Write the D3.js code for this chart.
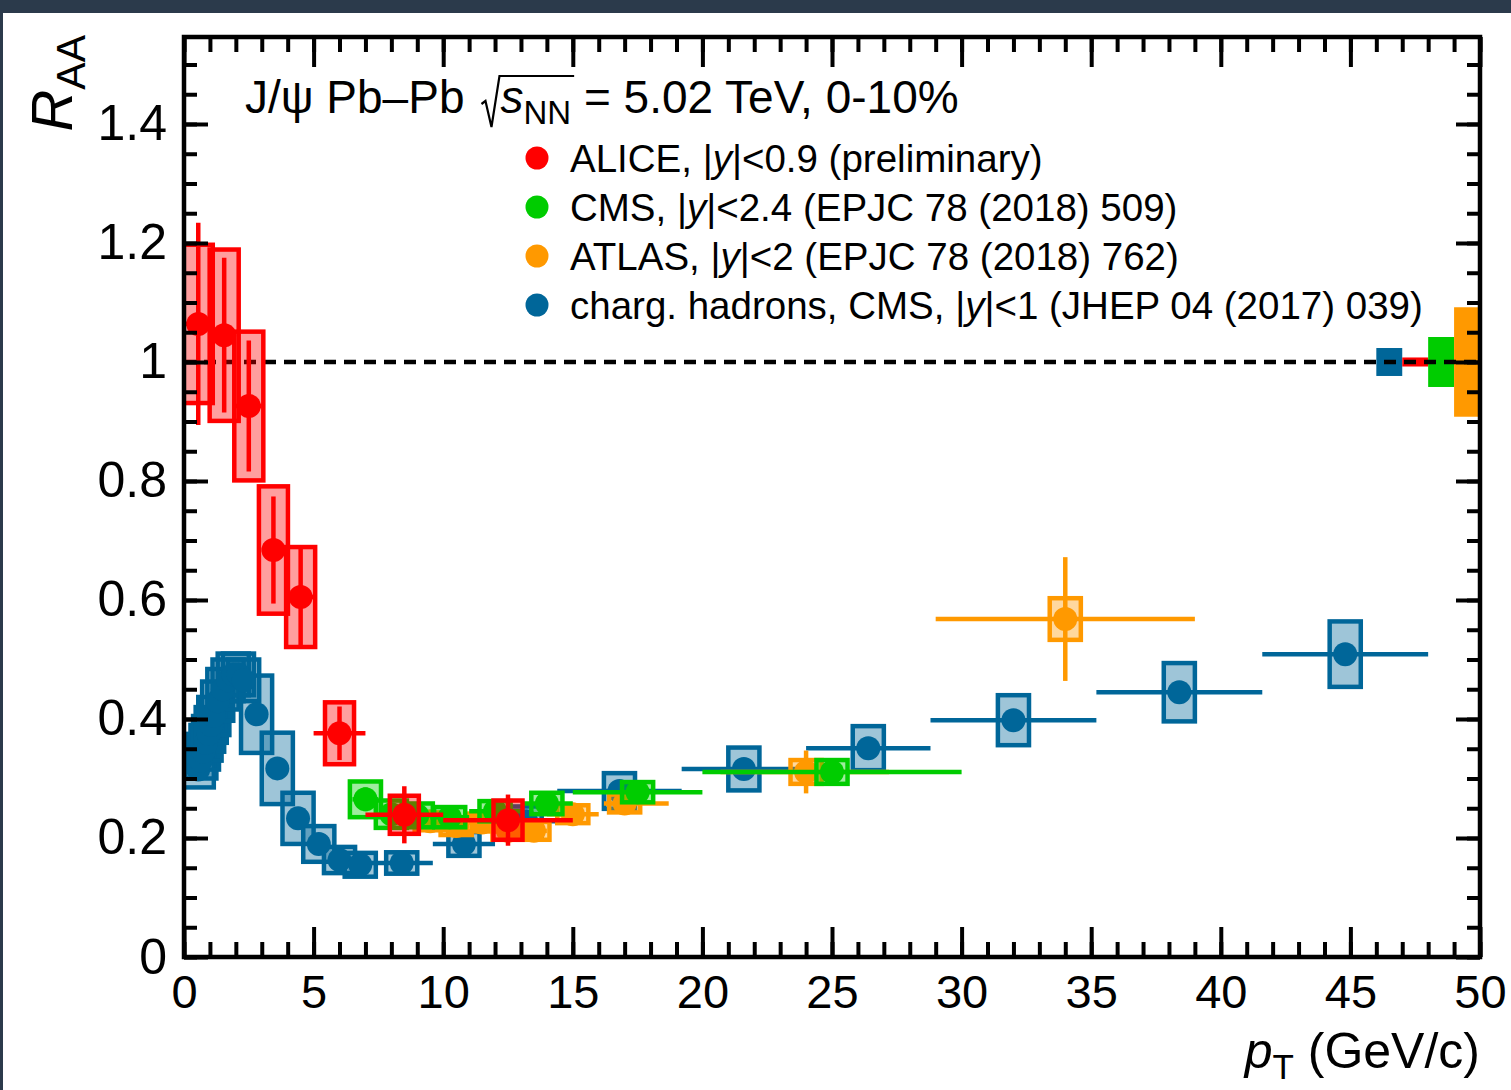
<!DOCTYPE html>
<html>
<head>
<meta charset="utf-8">
<script src="https://cdn.jsdelivr.net/npm/d3@7"></script>
<style>
body { margin: 0; background: #fff; }
text { font-family: Arial, "Liberation Sans", sans-serif; fill: #000; }
</style>
</head>
<body>
<svg id="chart" width="1511" height="1090"></svg>
<script>
// ALICE J/psi, |y|<0.9
var aliceX = [0.55, 1.55, 2.5, 3.45, 4.5, 6.0, 8.5, 12.5];
var aliceY = [1.064, 1.045, 0.926, 0.684, 0.605, 0.376, 0.239, 0.230];
var aliceStat = [0.17, 0.13, 0.11, 0.09, 0.087, 0.045, 0.048, 0.043];
var aliceSys = [0.133, 0.144, 0.125, 0.107, 0.084, 0.052, 0.032, 0.033];
var aliceLo = [0, 1, 2, 3, 4, 5, 7, 10];
var aliceHi = [1, 2, 3, 4, 5, 7, 10, 15];

// CMS J/psi, |y|<2.4
var cmsX = [7.0, 8.0, 9.0, 10.25, 12.0, 14.0, 17.5, 25.0];
var cmsY = [0.265, 0.240, 0.238, 0.235, 0.245, 0.258, 0.277, 0.311];
var cmsStat = [0.02, 0.015, 0.015, 0.012, 0.012, 0.012, 0.012, 0.015];
var cmsSys = [0.03, 0.023, 0.02, 0.017, 0.017, 0.018, 0.017, 0.02];
var cmsLo = [6.5, 7.5, 8.5, 9.5, 11, 13, 15, 20];
var cmsHi = [7.5, 8.5, 9.5, 11, 13, 15, 20, 30];

// ATLAS J/psi, |y|<2
var atlasX = [9.5, 10.5, 11.5, 12.5, 13.5, 15.0, 17.0, 24.0, 34.0];
var atlasY = [0.228, 0.220, 0.226, 0.212, 0.212, 0.240, 0.258, 0.311, 0.568];
var atlasStat = [0.012, 0.012, 0.012, 0.012, 0.014, 0.014, 0.018, 0.036, 0.104];
var atlasSys = [0.015, 0.015, 0.015, 0.015, 0.015, 0.015, 0.015, 0.02, 0.035];
var atlasLo = [9, 10, 11, 12, 13, 14, 16.2, 20.7, 29];
var atlasHi = [10, 11, 12, 13, 14, 16, 18.7, 27.2, 39];

// charged hadrons, CMS |y|<1
var hadX = [0.55, 0.65, 0.75, 0.85, 0.95, 1.05, 1.15, 1.3, 1.5, 1.7, 1.9, 2.1, 2.3, 2.8, 3.6, 4.4, 5.2, 6.0, 6.8, 8.4, 10.8, 13.2, 16.8, 21.6, 26.4, 32.0, 38.4, 44.8];
var hadY = [0.315, 0.33, 0.345, 0.36, 0.375, 0.39, 0.405, 0.43, 0.45, 0.465, 0.475, 0.475, 0.465, 0.408, 0.317, 0.233, 0.19, 0.163, 0.155, 0.158, 0.19, 0.228, 0.279, 0.316, 0.351, 0.398, 0.445, 0.509];
var hadStat = [0, 0, 0, 0, 0, 0, 0, 0, 0, 0, 0, 0, 0, 0, 0, 0, 0, 0, 0, 0, 0, 0, 0, 0, 0, 0, 0, 0];
var hadSys = [0.03, 0.03, 0.03, 0.03, 0.03, 0.03, 0.032, 0.033, 0.034, 0.035, 0.035, 0.035, 0.035, 0.065, 0.06, 0.043, 0.03, 0.022, 0.02, 0.018, 0.02, 0.025, 0.03, 0.036, 0.037, 0.042, 0.049, 0.055];
var hadLo = [0.5, 0.6, 0.7, 0.8, 0.9, 1.0, 1.1, 1.2, 1.4, 1.6, 1.8, 2.0, 2.2, 2.4, 3.2, 4.0, 4.8, 5.6, 6.4, 7.2, 9.6, 12.0, 14.4, 19.2, 24.0, 28.8, 35.2, 41.6];
var hadHi = [0.6, 0.7, 0.8, 0.9, 1.0, 1.1, 1.2, 1.4, 1.6, 1.8, 2.0, 2.2, 2.4, 3.2, 4.0, 4.8, 5.6, 6.4, 7.2, 9.6, 12.0, 14.4, 19.2, 24.0, 28.8, 35.2, 41.6, 48.0];

// global uncertainties drawn at RAA = 1
var globalLo = [46, 47, 48, 49];
var globalHi = [47, 48, 49, 50];
var globalErr = [0.0235, 0.0076, 0.042, 0.092];
var globalColor = ["#006699", "#ff0000", "#00cc00", "#ff9900"];

var xMajor = [0, 5, 10, 15, 20, 25, 30, 35, 40, 45, 50];
var yMajor = [0, 0.2, 0.4, 0.6, 0.8, 1.0, 1.2, 1.4];

var legendLabels = [
    ["ALICE, |", "y", "|<0.9 (preliminary)"],
    ["CMS, |", "y", "|<2.4 (EPJC 78 (2018) 509)"],
    ["ATLAS, |", "y", "|<2 (EPJC 78 (2018) 762)"],
    ["charg. hadrons, CMS, |", "y", "|<1 (JHEP 04 (2017) 039)"]
];
var legendColors = ["#ff0000", "#00cc00", "#ff9900", "#006699"];

var svg = d3.select("#chart");

// dark window border
svg.append("rect").attr("x", 0).attr("y", 0).attr("width", 1511).attr("height", 13).attr("fill", "#2b3a4b");
svg.append("rect").attr("x", 0).attr("y", 0).attr("width", 3).attr("height", 1090).attr("fill", "#2b3a4b");

var padL = 184, padR = 1480, padT = 37, padB = 957;

var x = d3.scaleLinear().domain([0, 50]).range([padL, padR]);
var y = d3.scaleLinear().domain([0, 1.5462]).range([padB, padT]);

svg.append("defs").append("clipPath").attr("id", "plotclip")
    .append("rect").attr("x", padL).attr("y", padT).attr("width", padR - padL).attr("height", padB - padT);

// reference line at 1
svg.append("line")
    .attr("x1", x(0)).attr("x2", x(50))
    .attr("y1", y(1)).attr("y2", y(1))
    .attr("stroke", "#000").attr("stroke-width", 4.5)
    .attr("stroke-dasharray", "12,8");

var plot = svg.append("g").attr("clip-path", "url(#plotclip)");

function drawSeries(xs, ys, stat, sys, lo, hi, color, boxW) {
    var pts = xs.map(function(d, i) {
        return { x: d, y: ys[i], stat: stat[i], sys: sys[i], lo: lo[i], hi: hi[i] };
    });
    var g = plot.append("g");

    g.selectAll("rect.sys").data(pts).enter().append("rect")
        .attr("x", function(d) { return x(d.x - boxW); })
        .attr("width", function(d) { return x(d.x + boxW) - x(d.x - boxW); })
        .attr("y", function(d) { return y(d.y + d.sys); })
        .attr("height", function(d) { return y(d.y - d.sys) - y(d.y + d.sys); })
        .attr("fill", color).attr("fill-opacity", 0.38)
        .attr("stroke", color).attr("stroke-width", 4.5);

    g.selectAll("line.xerr").data(pts).enter().append("line")
        .attr("x1", function(d) { return x(d.lo); })
        .attr("x2", function(d) { return x(d.hi); })
        .attr("y1", function(d) { return y(d.y); })
        .attr("y2", function(d) { return y(d.y); })
        .attr("stroke", color).attr("stroke-width", 4.5);

    g.selectAll("line.yerr").data(pts.filter(function(d) { return d.stat > 0; })).enter().append("line")
        .attr("x1", function(d) { return x(d.x); })
        .attr("x2", function(d) { return x(d.x); })
        .attr("y1", function(d) { return y(d.y - d.stat); })
        .attr("y2", function(d) { return y(d.y + d.stat); })
        .attr("stroke", color).attr("stroke-width", 4.5);

    g.selectAll("circle").data(pts).enter().append("circle")
        .attr("cx", function(d) { return x(d.x); })
        .attr("cy", function(d) { return y(d.y); })
        .attr("r", 12)
        .attr("fill", color);
}

drawSeries(hadX, hadY, hadStat, hadSys, hadLo, hadHi, "#006699", 0.6);
drawSeries(atlasX, atlasY, atlasStat, atlasSys, atlasLo, atlasHi, "#ff9900", 0.6);
drawSeries(cmsX, cmsY, cmsStat, cmsSys, cmsLo, cmsHi, "#00cc00", 0.6);
drawSeries(aliceX, aliceY, aliceStat, aliceSys, aliceLo, aliceHi, "#ff0000", 0.56);

// global uncertainty boxes
plot.selectAll("rect.global").data(globalLo).enter().append("rect")
    .attr("x", function(d) { return x(d); })
    .attr("width", function(d, i) { return x(globalHi[i]) - x(d); })
    .attr("y", function(d, i) { return y(1 + globalErr[i]); })
    .attr("height", function(d, i) { return y(1 - globalErr[i]) - y(1 + globalErr[i]); })
    .attr("fill", function(d, i) { return globalColor[i]; });

svg.append("line")
    .attr("x1", x(46)).attr("x2", x(50))
    .attr("y1", y(1)).attr("y2", y(1))
    .attr("stroke", "#000").attr("stroke-width", 4.5)
    .attr("stroke-dasharray", "12,8")
    .attr("stroke-dashoffset", (x(46) - x(0)) % 20);

// axes: ticks on all four sides, pointing inward
function styleAxis(sel, size) {
    sel.select(".domain").remove();
    sel.selectAll("line").attr("stroke", "#000").attr("stroke-width", 4);
    sel.selectAll("text").attr("font-size", size || 47).attr("font-family", "Arial, 'Liberation Sans', sans-serif");
}
var fmtY = function(d) { return d === 0 ? "0" : (d === 1 ? "1" : d3.format(".1f")(d)); };

svg.append("g").attr("transform", "translate(0," + padB + ")")
    .call(d3.axisBottom(x).tickValues(d3.range(0, 51, 1)).tickSize(-15).tickFormat(""))
    .call(styleAxis);
svg.append("g").attr("transform", "translate(0," + padB + ")")
    .call(d3.axisBottom(x).tickValues(xMajor).tickSize(-30).tickPadding(18).tickFormat(d3.format("d")))
    .call(styleAxis, 47);
svg.append("g").attr("transform", "translate(0," + padT + ")")
    .call(d3.axisTop(x).tickValues(d3.range(0, 51, 1)).tickSize(-15).tickFormat(""))
    .call(styleAxis);
svg.append("g").attr("transform", "translate(0," + padT + ")")
    .call(d3.axisTop(x).tickValues(xMajor).tickSize(-30).tickFormat(""))
    .call(styleAxis);

svg.append("g").attr("transform", "translate(" + padL + ",0)")
    .call(d3.axisLeft(y).tickValues(d3.range(0, 1.55, 0.05)).tickSize(-13).tickFormat(""))
    .call(styleAxis);
svg.append("g").attr("transform", "translate(" + padL + ",0)")
    .call(d3.axisLeft(y).tickValues(yMajor).tickSize(-24).tickPadding(17).tickFormat(fmtY))
    .call(styleAxis, 50);
svg.append("g").attr("transform", "translate(" + padR + ",0)")
    .call(d3.axisRight(y).tickValues(d3.range(0, 1.55, 0.05)).tickSize(-13).tickFormat(""))
    .call(styleAxis);
svg.append("g").attr("transform", "translate(" + padR + ",0)")
    .call(d3.axisRight(y).tickValues(yMajor).tickSize(-24).tickFormat(""))
    .call(styleAxis);

// frame
svg.append("rect")
    .attr("x", padL).attr("y", padT)
    .attr("width", padR - padL).attr("height", padB - padT)
    .attr("fill", "none").attr("stroke", "#000").attr("stroke-width", 4.5);

// axis titles
var ty = svg.append("text")
    .attr("transform", "translate(72,35) rotate(-90)")
    .attr("text-anchor", "end");
ty.append("tspan").attr("font-size", 58).attr("font-style", "italic").text("R");
ty.append("tspan").attr("font-size", 41).attr("dy", 13).text("AA");

var tx = svg.append("text")
    .attr("x", padR).attr("y", 1068)
    .attr("text-anchor", "end")
    .attr("font-size", 50);
tx.append("tspan").attr("font-style", "italic").text("p");
tx.append("tspan").attr("font-size", 35).attr("dy", 11).text("T");
tx.append("tspan").attr("dy", -11).text(" (GeV/c)");

// header with square root
var t1 = svg.append("text").attr("x", 245).attr("y", 113).attr("font-size", 46).text("J/ψ Pb–Pb");
var w1 = t1.node().getComputedTextLength();
var rx = 245 + w1 + 17;
var t2 = svg.append("text").attr("x", rx + 19).attr("y", 113).attr("font-size", 46);
var sS = t2.append("tspan").attr("font-style", "italic").text("s");
var sNN = t2.append("tspan").attr("font-size", 33).attr("dy", 11).text("NN");
t2.append("tspan").attr("dy", -11).text(" = 5.02 TeV, 0-10%");
var wS = sS.node().getComputedTextLength() + sNN.node().getComputedTextLength();
svg.append("path")
    .attr("d", "M" + rx + ",104 L" + (rx + 4) + ",101 L" + (rx + 10) + ",127 L" + (rx + 18) + ",76 L" + (rx + 19 + wS + 3) + ",76")
    .attr("fill", "none").attr("stroke", "#000").attr("stroke-width", 2.2);

// legend
var leg = svg.append("g");
legendLabels.forEach(function(parts, i) {
    var cy = 158 + i * 49;
    leg.append("circle").attr("cx", 537).attr("cy", cy).attr("r", 11.5).attr("fill", legendColors[i]);
    var t = leg.append("text").attr("x", 570).attr("y", cy + 14).attr("font-size", 38.5);
    t.append("tspan").text(parts[0]);
    t.append("tspan").attr("font-style", "italic").text(parts[1]);
    t.append("tspan").text(parts[2]);
});
</script>
</body>
</html>
